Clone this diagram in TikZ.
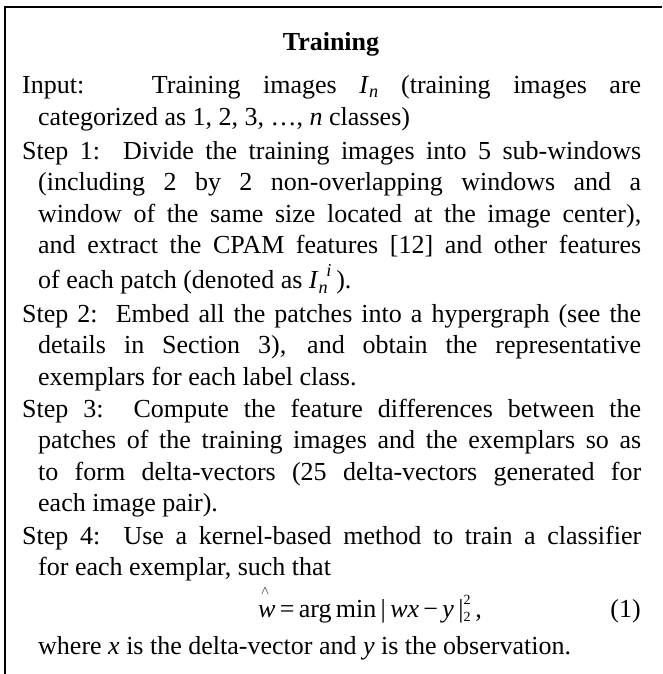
\documentclass[tikz,border=0pt]{standalone}
\usepackage{fontspec}
\setmainfont{Liberation Serif}

\newcommand{\bodyfont}{\fontsize{26}{31.6}\selectfont}
\newcommand{\imgIn}{\textit{I}\textsubscript{\textit{n}}}
\newcommand{\imgIni}{\textit{I}\rlap{\raisebox{-1pt}{\textsubscript{\textit{n}}}}\hspace{0.3em}\raisebox{3pt}{\textsuperscript{\textit{i}}}\,}
\newcommand{\what}{\makebox[0pt][l]{\raisebox{23pt}{\hspace{3pt}\fontsize{12}{12}\selectfont$\wedge$}}\textit{w}}
\newcommand{\sqsub}{\rlap{\raisebox{3pt}{\textsuperscript{\fontsize{14}{14}\selectfont 2}}}\raisebox{-1pt}{\textsubscript{\fontsize{14}{14}\selectfont 2}}}

\begin{document}
\begin{tikzpicture}[
		x=1pt, y=1pt,
		frame/.style={line width=1.6pt},
		title/.style={anchor=base, inner sep=0pt, font=\bodyfont\bfseries},
		para/.style={anchor=base west, inner sep=0pt, text width=619pt, align=justify, font=\bodyfont},
		plain/.style={anchor=base west, inner sep=0pt, font=\bodyfont}
		]
		\useasboundingbox (0,0) rectangle (662,-674);
		
		% Frame (only top and left edges show)
		\draw[frame] (5,-674) -- (5,-7) -- (662,-7);
		
		% Title
		\node[title] (title) at (331,-51) {Training};
		
		% Input
		\node[para] (input) at (22,-94) {\hangindent=16pt\hangafter=1
			Input:\ \ \ Training images \imgIn{} (training images are\linebreak
			categorized as 1, 2, 3, \dots, \textit{n} classes)\par};
		
		% Steps
		\node[para] (step1) at (22,-159) {\hangindent=16pt\hangafter=1
			Step 1:\ \ Divide the training images into 5 sub-windows\linebreak
			(including 2 by 2 non-overlapping windows and a\linebreak
			window of the same size located at the image center),\linebreak
			and extract the CPAM features [12] and other features\vadjust{\vskip3.4pt}\linebreak
			of each patch (denoted as \imgIni).\par};
		
		\node[para] (step2) at (22,-322) {\hangindent=16pt\hangafter=1
			Step 2:\ \ Embed all the patches into a hypergraph (see the\linebreak
			details in Section 3), and obtain the representative\linebreak
			exemplars for each label class.\par};
		
		\node[para] (step3) at (22,-417) {\hangindent=16pt\hangafter=1
			Step 3:\ \ Compute the feature differences between the\linebreak
			patches of the training images and the exemplars so as\linebreak
			to form delta-vectors (25 delta-vectors generated for\linebreak
			each image pair).\par};
		
		\node[para] (step4) at (22,-544) {\hangindent=16pt\hangafter=1
			Step 4:\ \ Use a kernel-based method to train a classifier\linebreak
			for each exemplar, such that\par};
		
		% Equation (1)
		\node[plain] (eq) at (258,-617) {\what{}\,=\,arg\,min\,|\,\textit{wx}\,−\,\textit{y}\,|\sqsub\,,};
		\node[anchor=base east, inner sep=0pt, font=\bodyfont] (eqnum) at (641,-617) {(1)};
		
		\node[plain] (where) at (38,-654) {where \textit{x} is the delta-vector and \textit{y} is the observation.};
		
	\end{tikzpicture}
\end{document}
